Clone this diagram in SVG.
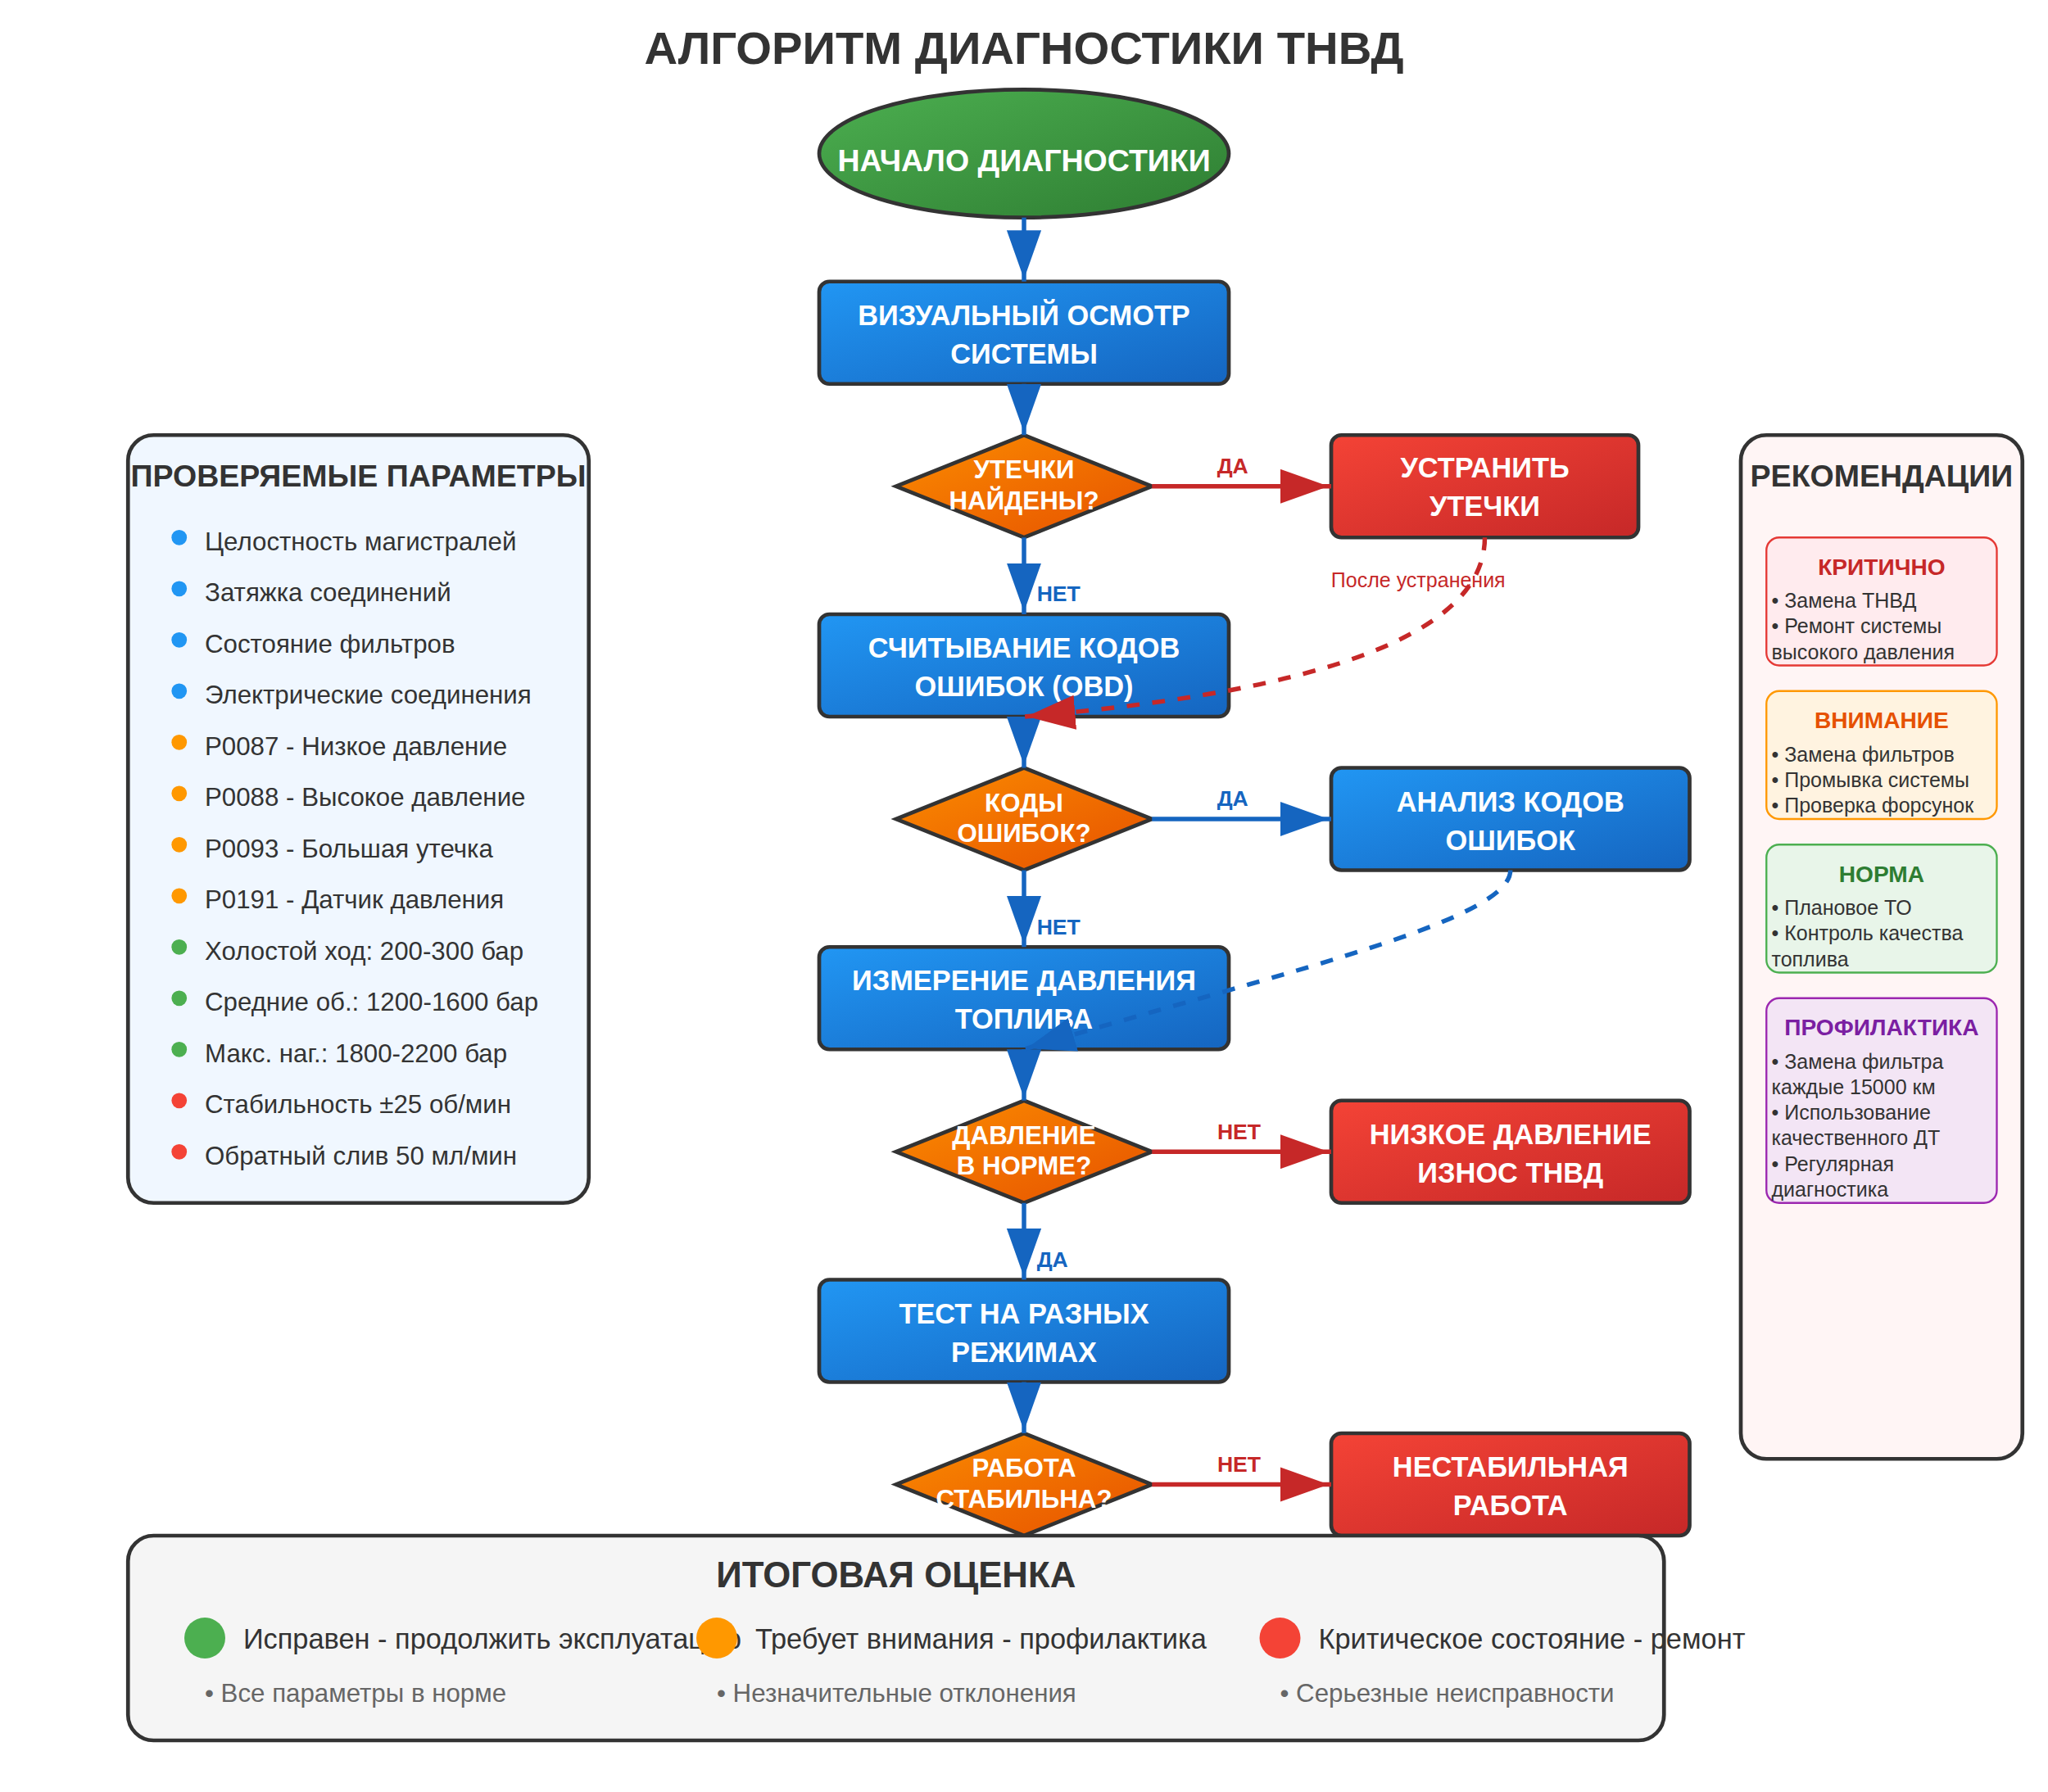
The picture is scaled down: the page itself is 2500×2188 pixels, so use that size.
<svg xmlns="http://www.w3.org/2000/svg" width="2500" height="2188" viewBox="0 0 2500 2188">
<defs>
<linearGradient id="gGreen" x1="0" y1="0" x2="1" y2="1"><stop offset="0" stop-color="#4CAF50"/><stop offset="1" stop-color="#2E7D32"/></linearGradient>
<linearGradient id="gBlue" x1="0" y1="0" x2="1" y2="1"><stop offset="0" stop-color="#2196F3"/><stop offset="1" stop-color="#1565C0"/></linearGradient>
<linearGradient id="gRed" x1="0" y1="0" x2="1" y2="1"><stop offset="0" stop-color="#F44336"/><stop offset="1" stop-color="#C62828"/></linearGradient>
<linearGradient id="gOrange" x1="0" y1="0" x2="1" y2="1"><stop offset="0" stop-color="#FB8C00"/><stop offset="1" stop-color="#E65100"/></linearGradient>
<marker id="aBlue" markerUnits="userSpaceOnUse" markerWidth="38" markerHeight="27" viewBox="0 0 38 27" refX="40" refY="13.5" orient="auto"><path d="M0,0 L38,13.5 L0,27 z" fill="#1565C0"/></marker>
<marker id="aRed" markerUnits="userSpaceOnUse" markerWidth="38" markerHeight="27" viewBox="0 0 38 27" refX="40" refY="13.5" orient="auto"><path d="M0,0 L38,13.5 L0,27 z" fill="#C62828"/></marker>
</defs>
<style>
text{font-family:"Liberation Sans",Arial,Helvetica,sans-serif}
.node{stroke:#333;stroke-width:3}
.rectB{fill:url(#gBlue)}
.rectR{fill:url(#gRed)}
.dia{fill:url(#gOrange)}
.nt{fill:#fff;font-weight:bold;font-size:22px;text-anchor:middle}
.dt{fill:#fff;font-weight:bold;font-size:20px;text-anchor:middle}
.conB{fill:none;stroke:#1565C0;stroke-width:3.5;marker-end:url(#aBlue)}
.conR{fill:none;stroke:#C62828;stroke-width:3.5;marker-end:url(#aRed)}
.dash{stroke-dasharray:10,10}
.lbl{font-weight:bold;font-size:17px}
.lb{fill:#1565C0}
.lr{fill:#C62828}
.panel{stroke:#333;stroke-width:3}
.ptitle{font-weight:bold;font-size:24px;fill:#333;text-anchor:middle}
.li{font-size:20px;fill:#333}
.rt{font-weight:bold;font-size:18px;text-anchor:middle}
.ri{font-size:16px;fill:#333}
.lg{font-size:22px;fill:#333}
.ls{font-size:20px;fill:#666}
</style>
<rect width="2500" height="2188" fill="#ffffff"/>
<g transform="scale(1.5625)">
<text x="800" y="50" font-size="36" font-weight="bold" fill="#333" text-anchor="middle">АЛГОРИТМ ДИАГНОСТИКИ ТНВД</text>

<g id="params-panel">
<rect class="panel" x="100" y="340" width="360" height="600" rx="20" fill="#F0F7FF"/>
<text class="ptitle" x="280" y="380">ПРОВЕРЯЕМЫЕ ПАРАМЕТРЫ</text>
<circle cx="140" cy="420" r="6" fill="#2196F3"/><text class="li" x="160" y="430">Целостность магистралей</text>
<circle cx="140" cy="460" r="6" fill="#2196F3"/><text class="li" x="160" y="470">Затяжка соединений</text>
<circle cx="140" cy="500" r="6" fill="#2196F3"/><text class="li" x="160" y="510">Состояние фильтров</text>
<circle cx="140" cy="540" r="6" fill="#2196F3"/><text class="li" x="160" y="550">Электрические соединения</text>
<circle cx="140" cy="580" r="6" fill="#FF9800"/><text class="li" x="160" y="590">P0087 - Низкое давление</text>
<circle cx="140" cy="620" r="6" fill="#FF9800"/><text class="li" x="160" y="630">P0088 - Высокое давление</text>
<circle cx="140" cy="660" r="6" fill="#FF9800"/><text class="li" x="160" y="670">P0093 - Большая утечка</text>
<circle cx="140" cy="700" r="6" fill="#FF9800"/><text class="li" x="160" y="710">P0191 - Датчик давления</text>
<circle cx="140" cy="740" r="6" fill="#4CAF50"/><text class="li" x="160" y="750">Холостой ход: 200-300 бар</text>
<circle cx="140" cy="780" r="6" fill="#4CAF50"/><text class="li" x="160" y="790">Средние об.: 1200-1600 бар</text>
<circle cx="140" cy="820" r="6" fill="#4CAF50"/><text class="li" x="160" y="830">Макс. наг.: 1800-2200 бар</text>
<circle cx="140" cy="860" r="6" fill="#F44336"/><text class="li" x="160" y="870">Стабильность ±25 об/мин</text>
<circle cx="140" cy="900" r="6" fill="#F44336"/><text class="li" x="160" y="910">Обратный слив 50 мл/мин</text>
</g>

<g id="recommendations-panel">
<rect class="panel" x="1360" y="340" width="220" height="800" rx="20" fill="#FFF5F5"/>
<text class="ptitle" x="1470" y="380">РЕКОМЕНДАЦИИ</text>
<rect x="1380" y="420" width="180" height="100" rx="10" fill="#FFEBEE" stroke="#E53935" stroke-width="1.5"/>
<text class="rt" x="1470" y="449" fill="#C62828">КРИТИЧНО</text>
<text class="ri" x="1384" y="475">• Замена ТНВД</text>
<text class="ri" x="1384" y="495">• Ремонт системы</text>
<text class="ri" x="1384" y="515">высокого давления</text>
<rect x="1380" y="540" width="180" height="100" rx="10" fill="#FFF3E0" stroke="#FF9800" stroke-width="1.5"/>
<text class="rt" x="1470" y="569" fill="#E65100">ВНИМАНИЕ</text>
<text class="ri" x="1384" y="595">• Замена фильтров</text>
<text class="ri" x="1384" y="615">• Промывка системы</text>
<text class="ri" x="1384" y="635">• Проверка форсунок</text>
<rect x="1380" y="660" width="180" height="100" rx="10" fill="#E8F5E9" stroke="#4CAF50" stroke-width="1.5"/>
<text class="rt" x="1470" y="689" fill="#2E7D32">НОРМА</text>
<text class="ri" x="1384" y="715">• Плановое ТО</text>
<text class="ri" x="1384" y="735">• Контроль качества</text>
<text class="ri" x="1384" y="755">топлива</text>
<rect x="1380" y="780" width="180" height="160" rx="10" fill="#F3E5F5" stroke="#9C27B0" stroke-width="1.5"/>
<text class="rt" x="1470" y="809" fill="#7B1FA2">ПРОФИЛАКТИКА</text>
<text class="ri" x="1384" y="835">• Замена фильтра</text>
<text class="ri" x="1384" y="855">каждые 15000 км</text>
<text class="ri" x="1384" y="875">• Использование</text>
<text class="ri" x="1384" y="895">качественного ДТ</text>
<text class="ri" x="1384" y="915">• Регулярная</text>
<text class="ri" x="1384" y="935">диагностика</text>
</g>

<g id="start"><ellipse class="node" cx="800" cy="120" rx="160" ry="50" fill="url(#gGreen)"/>
<text x="800" y="134" fill="#fff" font-weight="bold" font-size="24" text-anchor="middle">НАЧАЛО ДИАГНОСТИКИ</text></g>

<g id="visual"><rect class="node rectB" x="640" y="220" width="320" height="80" rx="8"/>
<text class="nt" x="800" y="254">ВИЗУАЛЬНЫЙ ОСМОТР</text><text class="nt" x="800" y="284">СИСТЕМЫ</text></g>

<g id="leaks"><polygon class="node dia" points="800,340 900,380 800,420 700,380"/>
<text class="dt" x="800" y="374">УТЕЧКИ</text><text class="dt" x="800" y="398">НАЙДЕНЫ?</text></g>

<g id="fix-leaks"><rect class="node rectR" x="1040" y="340" width="240" height="80" rx="8"/>
<text class="nt" x="1160" y="373">УСТРАНИТЬ</text><text class="nt" x="1160" y="403">УТЕЧКИ</text></g>

<g id="read-codes"><rect class="node rectB" x="640" y="480" width="320" height="80" rx="8"/>
<text class="nt" x="800" y="514">СЧИТЫВАНИЕ КОДОВ</text><text class="nt" x="800" y="544">ОШИБОК (OBD)</text></g>

<g id="codes"><polygon class="node dia" points="800,600 900,640 800,680 700,640"/>
<text class="dt" x="800" y="634">КОДЫ</text><text class="dt" x="800" y="658">ОШИБОК?</text></g>

<g id="analyze"><rect class="node rectB" x="1040" y="600" width="280" height="80" rx="8"/>
<text class="nt" x="1180" y="634">АНАЛИЗ КОДОВ</text><text class="nt" x="1180" y="664">ОШИБОК</text></g>

<g id="measure"><rect class="node rectB" x="640" y="740" width="320" height="80" rx="8"/>
<text class="nt" x="800" y="774">ИЗМЕРЕНИЕ ДАВЛЕНИЯ</text><text class="nt" x="800" y="804">ТОПЛИВА</text></g>

<g id="pressure"><polygon class="node dia" points="800,860 900,900 800,940 700,900"/>
<text class="dt" x="800" y="894">ДАВЛЕНИЕ</text><text class="dt" x="800" y="918">В НОРМЕ?</text></g>

<g id="low-pressure"><rect class="node rectR" x="1040" y="860" width="280" height="80" rx="8"/>
<text class="nt" x="1180" y="894">НИЗКОЕ ДАВЛЕНИЕ</text><text class="nt" x="1180" y="924">ИЗНОС ТНВД</text></g>

<g id="test"><rect class="node rectB" x="640" y="1000" width="320" height="80" rx="8"/>
<text class="nt" x="800" y="1034">ТЕСТ НА РАЗНЫХ</text><text class="nt" x="800" y="1064">РЕЖИМАХ</text></g>

<g id="stable"><polygon class="node dia" points="800,1120 900,1160 800,1200 700,1160"/>
<text class="dt" x="800" y="1154">РАБОТА</text><text class="dt" x="800" y="1178">СТАБИЛЬНА?</text></g>

<g id="unstable"><rect class="node rectR" x="1040" y="1120" width="280" height="80" rx="8"/>
<text class="nt" x="1180" y="1154">НЕСТАБИЛЬНАЯ</text><text class="nt" x="1180" y="1184">РАБОТА</text></g>

<g id="connectors">
<path class="conB" d="M800,170 L800,220"/>
<path class="conB" d="M800,300 L800,340"/>
<path class="conB" d="M800,420 L800,480"/>
<path class="conB" d="M800,560 L800,600"/>
<path class="conB" d="M800,680 L800,740"/>
<path class="conB" d="M800,820 L800,860"/>
<path class="conB" d="M800,940 L800,1000"/>
<path class="conB" d="M800,1080 L800,1120"/>
<path class="conR" d="M900,380 L1040,380"/>
<path class="conB" d="M900,640 L1040,640"/>
<path class="conR" d="M900,900 L1040,900"/>
<path class="conR" d="M900,1160 L1040,1160"/>
<path class="conR dash" d="M1160,420 Q1160,530 800,560"/>
<path class="conB dash" d="M1180,680 C1180,720 1000,760 800,820"/>
<text class="lbl lr" x="963" y="370" text-anchor="middle">ДА</text>
<text class="lbl lb" x="810" y="470">НЕТ</text>
<text class="lbl lb" x="963" y="630" text-anchor="middle">ДА</text>
<text class="lbl lb" x="810" y="730">НЕТ</text>
<text class="lbl lr" x="968" y="890" text-anchor="middle">НЕТ</text>
<text class="lbl lb" x="810" y="990">ДА</text>
<text class="lbl lr" x="968" y="1150" text-anchor="middle">НЕТ</text>
<text x="1108" y="459" font-size="16" fill="#C62828" text-anchor="middle">После устранения</text>
</g>

<g id="summary">
<rect class="panel" x="100" y="1200" width="1200" height="160" rx="20" fill="#F5F5F5"/>
<text x="700" y="1240" font-size="28" font-weight="bold" fill="#333" text-anchor="middle">ИТОГОВАЯ ОЦЕНКА</text>
<circle cx="160" cy="1280" r="16" fill="#4CAF50"/>
<text class="lg" x="190" y="1288">Исправен - продолжить эксплуатацию</text>
<text class="ls" x="160" y="1330">• Все параметры в норме</text>
<circle cx="560" cy="1280" r="16" fill="#FF9800"/>
<text class="lg" x="590" y="1288">Требует внимания - профилактика</text>
<text class="ls" x="560" y="1330">• Незначительные отклонения</text>
<circle cx="1000" cy="1280" r="16" fill="#F44336"/>
<text class="lg" x="1030" y="1288">Критическое состояние - ремонт</text>
<text class="ls" x="1000" y="1330">• Серьезные неисправности</text>
</g>
</g>
</svg>
